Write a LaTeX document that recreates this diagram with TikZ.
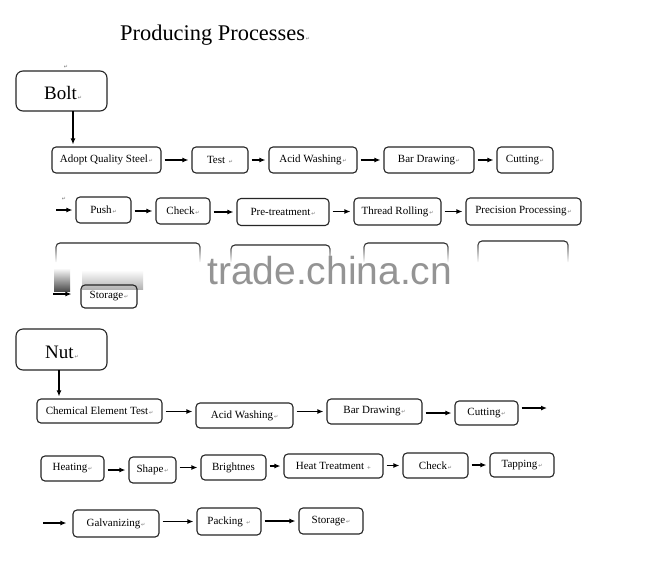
\documentclass[tikz,border=0pt]{standalone}
\usepackage{fontspec}
\setmainfont{Liberation Serif}
\newfontfamily\retfont{DejaVu Sans}
\newfontfamily\wmfont{Liberation Sans}
\usetikzlibrary{arrows.meta,calc,fadings}
\newcommand\pmk{{\retfont\fontsize{5}{5}\selectfont\color{black!55}\,↵}}
\tikzfading[name=fadedown, top color=transparent!0, bottom color=transparent!100]
\begin{document}
\begin{tikzpicture}[x=1pt,y=-1pt,
 box/.style={draw=black!85, line width=1.1pt, rounded corners=4pt, inner sep=0pt, font=\fontsize{11}{12}\selectfont},
 big/.style={draw=black!85, line width=1.1pt, rounded corners=7pt, inner sep=0pt},
 topline/.style={draw=black!85, line width=1.1pt, rounded corners=4pt, path fading=fadedown},
 arr/.style={draw=black, line width=1.3pt, -{Latex[length=6pt,width=5pt]}, shorten <=3pt, shorten >=3pt},
 retmark/.style={font=\retfont\fontsize{5}{5}\selectfont, text=black!55, inner sep=0pt}]

\useasboundingbox (0,0) rectangle (660,571);
\fill[white] (0,0) rectangle (660,571);

% title
\node[anchor=base west, inner sep=0pt, font=\fontsize{22.4}{24}\selectfont] (title) at (120,40) {Producing Processes\pmk};

% ---------- Bolt ----------
\node[big, minimum width=91, minimum height=40] (bolt) at (61.5,91) {};
\node[anchor=base west, inner sep=0pt, font=\fontsize{19}{20}\selectfont] (bolttxt) at (44,99) {Bolt\pmk};
\node[retmark] (m1) at (66,67) {↵};

\node[box, minimum width=109, minimum height=26] (adopt) at (106.5,160) {Adopt Quality Steel\pmk};
\node[box, minimum width=56, minimum height=26] (test) at (220,160) {Test\ \pmk};
\node[box, minimum width=88, minimum height=26] (acidb) at (313,160) {Acid Washing\pmk};
\node[box, minimum width=90, minimum height=26] (barb) at (429,160) {Bar Drawing\pmk};
\node[box, minimum width=56, minimum height=26] (cutb) at (525,160) {Cutting\pmk};

\node[retmark] (m2) at (64,199) {↵};
\node[box, minimum width=55, minimum height=26] (push) at (103.5,210) {Push\pmk};
\node[box, minimum width=54, minimum height=26] (checkb) at (183,211) {Check\pmk};
\node[box, minimum width=92, minimum height=27] (pre) at (283,212) {Pre-treatment\pmk};
\node[box, minimum width=87, minimum height=27] (thread) at (397.5,211.5) {Thread Rolling\pmk};
\node[box, minimum width=115, minimum height=27] (prec) at (523.5,211.5) {Precision Processing\pmk};

% obscured row
\draw[topline] (56,262) -- (56,243) -- (200,243) -- (200,262);
\draw[topline] (231,262) -- (231,245) -- (330,245) -- (330,262);
\draw[topline] (364,262) -- (364,243) -- (448,243) -- (448,262);
\draw[topline] (478,262) -- (478,241) -- (568,241) -- (568,262);
\shade[top color=white, bottom color=black!70] (54,268) rectangle (70,291);
\shade[top color=white, bottom color=black!30] (82,270) rectangle (143,289);
\node[box, minimum width=56, minimum height=23] (storb) at (109,296.5) {Storage\pmk};

\coordinate (b1) at (73,111);
\draw[arr, shorten <=0pt, shorten >=2pt] (b1) -- (b1 |- adopt.north);
\draw[arr] (test.west -| adopt.east) -- (test.west);
\draw[arr] (acidb.west -| test.east) -- (acidb.west);
\draw[arr] (barb.west -| acidb.east) -- (barb.west);
\draw[arr] (cutb.west -| barb.east) -- (cutb.west);

\coordinate (s1) at (56,210);
\draw[arr, shorten <=0pt] (s1) -- (s1 -| push.west);
\draw[arr] (checkb.west -| push.east) -- (checkb.west);
\draw[arr] (pre.west -| checkb.east) -- (pre.west);
\draw[arr] (thread.west -| pre.east) -- (thread.west);
\draw[arr] (prec.west -| thread.east) -- (prec.west);

\coordinate (s2) at (53,294);
\draw[arr, shorten <=0pt, shorten >=9pt] (s2) -- (s2 -| storb.west);

% watermark
\node[anchor=base west, inner sep=0pt, font=\wmfont\fontsize{39}{40}\selectfont, text=black!42] (wm) at (207,284) {trade.china.cn};

% ---------- Nut ----------
\node[big, minimum width=91, minimum height=41] (nut) at (61.5,349.5) {};
\node[anchor=base west, inner sep=0pt, font=\fontsize{19}{20}\selectfont] (nuttxt) at (45,358) {Nut\pmk};

\node[box, minimum width=125, minimum height=24] (chem) at (99.5,411) {Chemical Element Test\pmk};
\node[box, minimum width=97, minimum height=25] (acidn) at (244.5,415.5) {Acid Washing\pmk};
\node[box, minimum width=95, minimum height=25] (barn) at (374.5,411.5) {Bar Drawing\pmk};
\node[box, minimum width=63, minimum height=24] (cutn) at (486.5,413) {Cutting\pmk};

\node[box, minimum width=63, minimum height=25] (heating) at (72.5,468.5) {Heating\pmk};
\node[box, minimum width=47, minimum height=26] (shape) at (152.5,470) {Shape\pmk};
\node[box, minimum width=65, minimum height=25] (bright) at (233.5,467.5) {Brightnes};
\node[box, minimum width=99, minimum height=24] (heat) at (333.5,466) {Heat Treatment {\retfont\fontsize{5}{5}\selectfont\color{black!55}+}};
\node[box, minimum width=65, minimum height=25] (checkn) at (435.5,465.5) {Check\pmk};
\node[box, minimum width=64, minimum height=24] (tapping) at (522,465) {Tapping\pmk};

\node[box, minimum width=86, minimum height=27] (galv) at (116,523.5) {Galvanizing\pmk};
\node[box, minimum width=64, minimum height=27] (packing) at (229,521.5) {Packing\ \pmk};
\node[box, minimum width=64, minimum height=26] (storn) at (331,521) {Storage\pmk};

\coordinate (n1) at (59,370);
\draw[arr, shorten <=0pt, shorten >=2pt] (n1) -- (n1 |- chem.north);
\draw[arr] (acidn.west -| chem.east) ++(0,-4) -- ($(acidn.west)+(0,-4)$);
\draw[arr] (barn.west -| acidn.east) -- (barn.west);
\draw[arr] (cutn.west -| barn.east) -- (cutn.west);
\coordinate (e1) at (547,408);
\draw[arr, shorten >=0pt] (e1 -| cutn.east) -- (e1);

\draw[arr] (shape.west -| heating.east) -- (shape.west);
\draw[arr] (bright.west -| shape.east) -- (bright.west);
\draw[arr] (heat.west -| bright.east) -- (heat.west);
\draw[arr] (checkn.west -| heat.east) -- (checkn.west);
\draw[arr] (tapping.west -| checkn.east) -- (tapping.west);

\coordinate (s3) at (43,523);
\draw[arr, shorten <=0pt, shorten >=6pt] (s3) -- (s3 -| galv.west);
\draw[arr] (packing.west -| galv.east) -- (packing.west);
\draw[arr] (storn.west -| packing.east) -- (storn.west);
\end{tikzpicture}
\end{document}
